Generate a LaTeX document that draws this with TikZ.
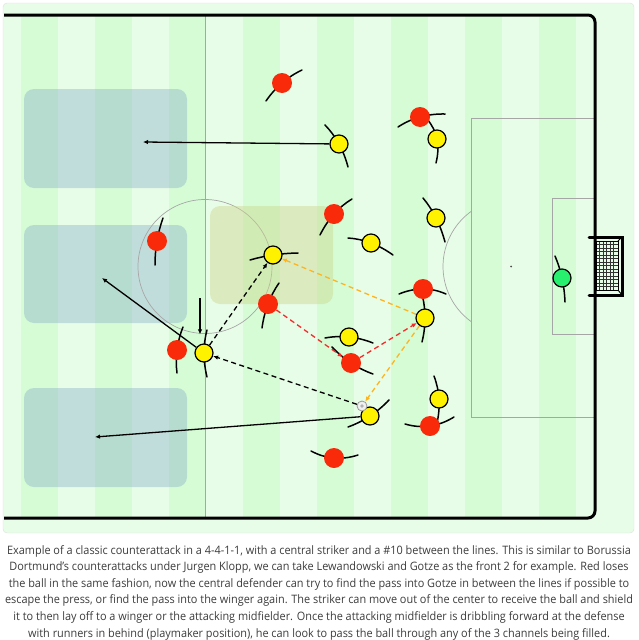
\documentclass[tikz,border=0pt]{standalone}
\usepackage{fontspec}
\newfontfamily\capfont{Open Sans}[FakeStretch=0.94]
\usepackage{tikz}
\usetikzlibrary{calc}
\usetikzlibrary{arrows.meta}
\tikzset{>={Latex[length=5pt,width=4.5pt]}}

\definecolor{lightstripe}{RGB}{232,253,232}
\definecolor{darkstripe}{RGB}{214,252,214}
\definecolor{channel}{RGB}{130,170,200}
\definecolor{zone}{RGB}{204,215,142}
\definecolor{redteam}{RGB}{248,42,10}
\definecolor{keepgreen}{RGB}{40,240,110}
\definecolor{passorange}{RGB}{255,180,30}
\definecolor{passred}{RGB}{250,40,40}
\definecolor{captext}{RGB}{60,60,60}

\pgfdeclarelayer{front}
\pgfsetlayers{main,front}

% body line of a player, bent through its centre
\newcommand{\arms}[3]{\draw[arm] ($(#1)+(#2)$) .. controls ($(#1)-0.333*(#3)$) and ($(#1)-0.333*(#2)$) .. ($(#1)+(#3)$);}

\begin{document}
\begin{tikzpicture}[x=1pt, y=-1pt,
	redp/.style={circle, fill=redteam, minimum size=20pt, inner sep=0pt},
	yelp/.style={circle, draw=black, line width=1.2pt, fill=yellow, minimum size=18pt, inner sep=0pt},
	keeper/.style={circle, draw=black, line width=1.2pt, fill=keepgreen, minimum size=18pt, inner sep=0pt},
	ballnode/.style={circle, draw=gray!80, line width=0.8pt, fill=gray!12, minimum size=10pt, inner sep=0pt},
	arm/.style={line width=1.5pt, black, line cap=round},
	markline/.style={gray!70, line width=0.7pt},
	channelbox/.style={fill=channel, opacity=0.38, rounded corners=10pt},
	run/.style={->, line width=1.3pt, black},
	pass/.style={->, line width=1.3pt, dash pattern=on 5pt off 3.5pt}]
\useasboundingbox (0,0) rectangle (638,640);

\filldraw[fill=lightstripe, draw=gray!25, rounded corners=4pt] (3,3) rectangle (634,533);
\foreach \s in {21,95,...,539}
	\fill[darkstripe] (\s,15) rectangle ++(37,503);

\fill[channelbox] (24,89) rectangle (187,188);
\fill[channelbox] (24,225) rectangle (187,323);
\fill[channelbox] (24,388) rectangle (187,487);

\draw[markline] (205,15) -- (205,518);
\draw[markline] (205,266.5) circle (67);
\draw[markline] (595,118) -| (471,417) -- (595,417);
\draw[markline] (595,198) -| (552,334) -- (595,334);
\draw[markline] ($(511,266.5)+(126:68)$) arc[start angle=126, end angle=234, radius=68];
\fill[black!70] (511,266.5) circle (1);

\fill[zone, opacity=0.45, rounded corners=10pt] (210,206) rectangle (333,304);

\draw[line width=3pt, rounded corners=7pt] (4,15) -- (595,15) -- (595,518) -- (4,518);

% goal
\foreach \gx in {599.5,603,...,616}
	\draw[black!80, line width=0.7pt] (\gx,241) -- (\gx,290);
\foreach \gy in {244.5,248,...,288}
	\draw[black!80, line width=0.7pt] (596,\gy) -- (618,\gy);
\draw[line width=1pt] (596,241) rectangle (618,290);
\draw[line width=1pt] (618,241) -- (622,237) (618,290) -- (622,295);
\draw[line width=3pt, line cap=round] (589,237) -- (622,237) -- (622,295) -- (589,295);

\begin{pgfonlayer}{front}
\node[redp] (r1) at (282,83) {};
\node[redp] (r2) at (420,117) {};
\node[redp] (r3) at (334,214) {};
\node[redp] (r4) at (157,241) {};
\node[redp] (r5) at (268,304) {};
\node[redp] (r6) at (177,350) {};
\node[redp] (r7) at (351,363) {};
\node[redp] (r8) at (423,289) {};
\node[redp] (r9) at (430,426) {};
\node[redp] (r10) at (334,458) {};

\node[yelp] (y1) at (339,144) {};
\node[yelp] (y2) at (437,139) {};
\node[yelp] (y3) at (436,218) {};
\node[yelp] (y4) at (371,243) {};
\node[yelp] (y5) at (273,255) {};
\node[yelp] (y6) at (425,318) {};
\node[yelp] (y7) at (349,337) {};
\node[yelp] (y8) at (204,353) {};
\node[yelp] (y9) at (370,416) {};
\node[yelp] (y10) at (439,399) {};

\node[keeper] (gk) at (562,278) {};
\node[ballnode] (ball) at (362,406) {};
\fill[gray!60] (ball) circle (1.8);
\end{pgfonlayer}

\arms{r1}{-16,18}{20,-13}
\arms{r2}{-22,10}{25,-3}
\arms{r3}{-14,21}{18,-15}
\arms{r4}{6,-23}{-2,24}
\arms{r5}{11,-21}{-6,24}
\arms{r6}{6,-23}{0,23}
\arms{r7}{-19,-16}{22,11}
\arms{r8}{-24,5}{23,5}
\arms{r9}{-25,-2}{24,-9}
\arms{r10}{-23,-7}{24,-3}

\arms{y1}{-14,-19}{9,23}
\arms{y2}{-10,-20}{-1,24}
\arms{y3}{-13,-20}{9,24}
\arms{y4}{-23,-5}{22,12}
\arms{y5}{-23,5}{25,-2}
\arms{y6}{-3,-24}{-3,24}
\arms{y7}{-24,1}{24,6}
\arms{y8}{3,-23}{3,24}
\arms{y9}{-22,11}{19,-16}
\arms{y10}{-5,-23}{-2,24}
\arms{gk}{-7,-22}{3,24}

\coordinate (c1) at (143,142);
\coordinate (c2) at (102,278);
\coordinate (c3) at (95,437);
\coordinate (m1) at (200,298);

\draw[run] (y1) -- (c1);
\draw[run] (y8) -- (c2);
\draw[run] (y9) -- (c3);
\draw[run, shorten >=9pt] (m1) -- (m1 |- y8.north);

\draw[pass, black] (y8) -- (y5);
\draw[pass, black] (ball) -- (y8);
\draw[pass, passred] (r5) -- (r7);
\draw[pass, passred] (r7) -- (y6);
\draw[pass, passorange] (y6) -- (y5);
\draw[pass, passorange] (y6) -- (ball);

\node[text=captext, align=center, font=\capfont\fontsize{11.6}{16.6}\selectfont] (caption) at (319,592.5) {%
Example of a classic counterattack in a 4-4-1-1, with a central striker and a \#10 between the lines. This is similar to Borussia\\
Dortmund’s counterattacks under Jurgen Klopp, we can take Lewandowski and Gotze as the front 2 for example. Red loses\\
the ball in the same fashion, now the central defender can try to find the pass into Gotze in between the lines if possible to\\
escape the press, or find the pass into the winger again. The striker can move out of the center to receive the ball and shield\\
it to then lay off to a winger or the attacking midfielder. Once the attacking midfielder is dribbling forward at the defense\\
with runners in behind (playmaker position), he can look to pass the ball through any of the 3 channels being filled.};
\end{tikzpicture}
\end{document}
